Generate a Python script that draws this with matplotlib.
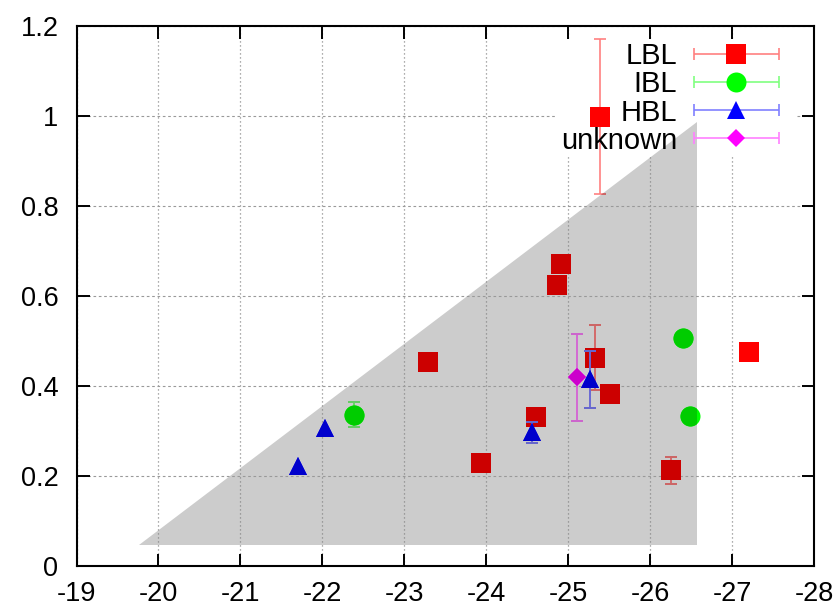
import numpy as np
import matplotlib
matplotlib.use('Agg')
import matplotlib.pyplot as plt
from matplotlib.patches import Polygon
from matplotlib.container import ErrorbarContainer
from matplotlib.legend_handler import HandlerErrorbar
from matplotlib.path import Path
from matplotlib.transforms import IdentityTransform
from matplotlib.colors import to_rgb
from matplotlib.ticker import FuncFormatter

plt.rcParams['font.family'] = ['Liberation Sans', 'DejaVu Sans']
plt.rcParams['axes.unicode_minus'] = False

nan = float('nan')  # error bar hidden behind the marker

# ---------------- data ----------------
lbl_x = [-25.38, -24.91, -24.86, -23.29, -25.32, -25.51, -24.61, -23.94, -26.25, -27.20]
lbl_y = [0.998, 0.671, 0.623, 0.453, 0.463, 0.382, 0.332, 0.228, 0.213, 0.476]
lbl_err = [0.172, nan, nan, nan, 0.072, nan, nan, nan, 0.030, nan]

ibl_x = [-22.38, -26.40, -26.48]
ibl_y = [0.336, 0.506, 0.334]
ibl_err = [0.028, nan, nan]

hbl_x = [-21.70, -22.03, -24.56, -25.26]
hbl_y = [0.221, 0.307, 0.297, 0.415]
hbl_err = [nan, nan, 0.023, 0.063]

unk_x = [-25.10]
unk_y = [0.419]
unk_err = [0.097]

region_x = [-19.76, -26.57, -26.57]
region_y = [0.047, 0.047, 0.987]

x_ticks = [-19, -20, -21, -22, -23, -24, -25, -26, -27, -28]
y_ticks = [0, 0.2, 0.4, 0.6, 0.8, 1.0, 1.2]
labels = ['LBL', 'IBL', 'HBL', 'unknown']

# ---------------- figure ----------------
W, H = 839, 610
fig = plt.figure(figsize=(W / 100, H / 100), dpi=100)
l_px, r_px, t_px, b_px = 76.5, 814.3, 25.7, 566.0
ax = fig.add_axes([l_px / W, (H - b_px) / H, (r_px - l_px) / W, (b_px - t_px) / H])
ax.set_xlim(-19, -28)
ax.set_ylim(0, 1.2)
ax.set_xticks(x_ticks)
ax.set_yticks(y_ticks)
ax.yaxis.set_major_formatter(FuncFormatter(lambda v, p: '%g' % v))
ax.xaxis.set_major_formatter(FuncFormatter(lambda v, p: '%g' % v))

poly = Polygon(np.column_stack([region_x, region_y]), closed=True,
               facecolor='#cccccc', edgecolor='none', zorder=0.2)
ax.add_patch(poly)

ax.set_axisbelow(True)
ax.yaxis.grid(True, linestyle=(0, (2.4, 2.4)), color='#999999', lw=0.8)
ax.xaxis.grid(True, linestyle=(0, (0.9, 2.3)), color='#808080', lw=0.9)

for sp in ax.spines.values():
    sp.set_linewidth(1.5)
    sp.set_zorder(10)
ax.tick_params(direction='in', length=9, width=1.4, top=True, right=True,
               labelsize=19.5, colors='black')
ax.tick_params(axis='x', pad=11)
ax.tick_params(axis='y', pad=13)


def draw(xs, ys, errs, color, marker, ms, z):
    c = np.array(to_rgb(color))
    light = 1 - 0.5 * (1 - c)
    first = None
    for k, factor in enumerate((1.0, 0.8)):
        cont = ax.errorbar(xs, ys, yerr=errs, fmt=marker, ms=ms,
                           color=tuple(c * factor),
                           ecolor=tuple(light * factor), elinewidth=1.2,
                           capsize=4.3, capthick=1.2, zorder=z + 0.01 * k)
        cont.lines[0].set_markeredgewidth(0)
        if k == 0:
            first = cont
        else:
            for art in cont.get_children():
                art.set_clip_path(poly)
    return first


c1 = draw(lbl_x, lbl_y, lbl_err, '#ff0000', 's', 13.7, 2)
c2 = draw(ibl_x, ibl_y, ibl_err, '#00ff00', 'o', 14.4, 3)
c3 = draw(hbl_x, hbl_y, hbl_err, '#0000ff', '^', 12.5, 4)
c4 = draw(unk_x, unk_y, unk_err, '#ff00ff', 'D', 9.2, 5)

handles = [ErrorbarContainer(c.lines, has_xerr=True, has_yerr=False, label=lab)
           for c, lab in zip([c1, c2, c3, c4], labels)]

leg = ax.legend(handles, labels, loc='upper right', bbox_to_anchor=(0.952, 0.9695),
                frameon=False, markerfirst=False, numpoints=1,
                handlelength=2.91, handletextpad=0.58, labelspacing=0.006,
                borderpad=0, borderaxespad=0, fontsize=21,
                handler_map={ErrorbarContainer: HandlerErrorbar(xerr_size=1.46)})
leg.set_zorder(20)

# hide grid lines behind the key area
fig.canvas.draw()
bb = leg.get_window_extent()
ab = ax.get_window_extent()
ix0, ix1, iy0, iy1 = bb.x0 - 5, bb.x1 + 16, bb.y0 - 2, bb.y1 + 2
verts = [(ab.x0, ab.y0), (ab.x1, ab.y0), (ab.x1, ab.y1), (ab.x0, ab.y1), (ab.x0, ab.y0),
         (ix0, iy0), (ix0, iy1), (ix1, iy1), (ix1, iy0), (ix0, iy0)]
codes = [Path.MOVETO, Path.LINETO, Path.LINETO, Path.LINETO, Path.CLOSEPOLY] * 2
clip = Path(verts, codes)
for gl in ax.get_xgridlines() + ax.get_ygridlines():
    gl.set_clip_path(clip, IdentityTransform())

fig.savefig('out.png', dpi=100)
